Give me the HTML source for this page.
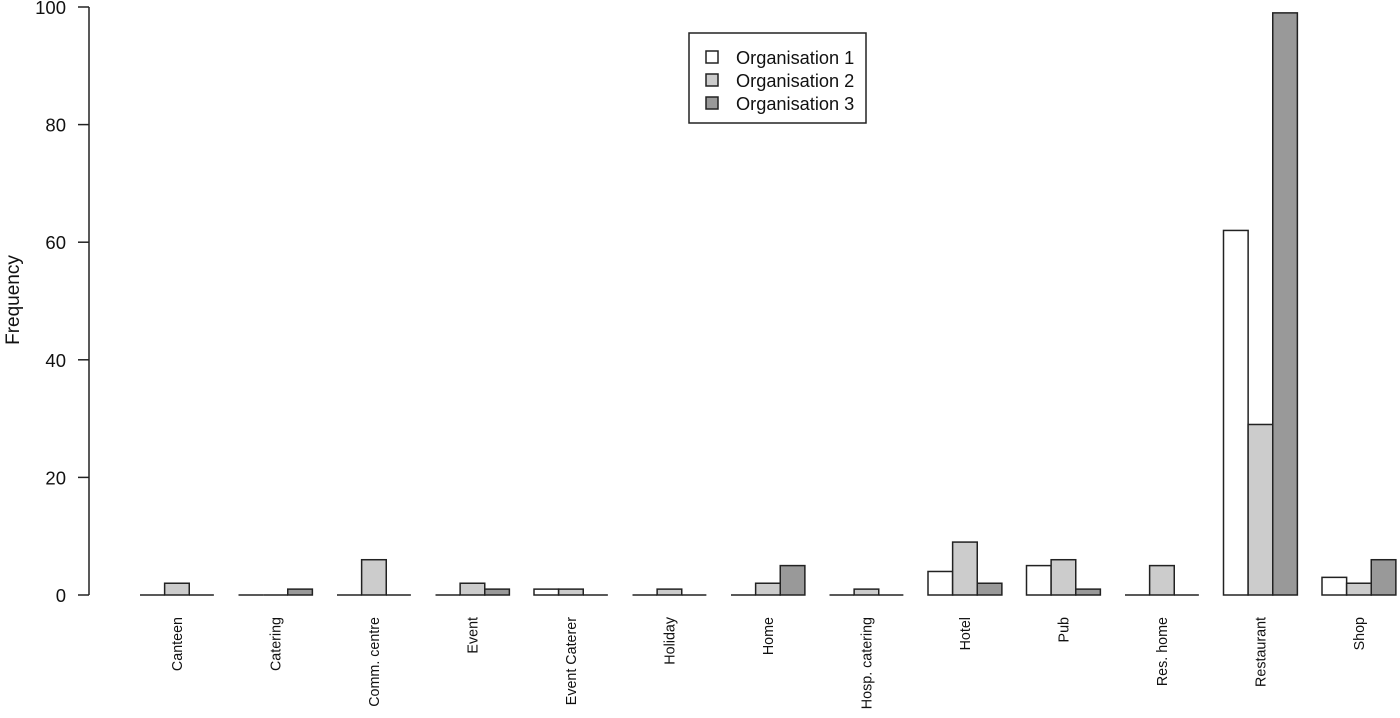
<!DOCTYPE html>
<html><head><meta charset="utf-8"><style>
html,body{margin:0;padding:0;background:#fff;}
svg text{font-family:"Liberation Sans",Arial,sans-serif;fill:#111;}
</style></head><body>
<svg id="chart" width="1400" height="713" viewBox="0 0 1400 713" xmlns="http://www.w3.org/2000/svg">
<g id="axis"></g>
<g id="bars"></g>
<g id="xlabels"></g>
<text x="19" y="300" font-size="19" text-anchor="middle" transform="rotate(-90 19 300)">Frequency</text>
<g>
<rect x="689" y="33" width="177" height="90" fill="#fff" stroke="#222" stroke-width="1.5"/>
<rect x="706" y="51" width="12" height="12" fill="#ffffff" stroke="#222" stroke-width="1.5"/>
<text x="736" y="64" font-size="18.2">Organisation 1</text>
<rect x="706" y="74" width="12" height="12" fill="#cccccc" stroke="#222" stroke-width="1.5"/>
<text x="736" y="87" font-size="18.2">Organisation 2</text>
<rect x="706" y="97" width="12" height="12" fill="#999999" stroke="#222" stroke-width="1.5"/>
<text x="736" y="110" font-size="18.2">Organisation 3</text>
</g>
</svg>
<script>
const categories = ["Canteen","Catering","Comm. centre","Event","Event Caterer","Holiday","Home","Hosp. catering","Hotel","Pub","Res. home","Restaurant","Shop"];
const org1 = [0,0,0,0,1,0,0,0,4,5,0,62,3];
const org2 = [2,0,6,2,1,1,2,1,9,6,5,29,2];
const org3 = [0,1,0,1,0,0,5,0,2,1,0,99,6];
const yTicks = [0,20,40,60,80,100];
const seriesNames = ["org1","org2","org3"];

const NS = "http://www.w3.org/2000/svg";
const y0 = 595, yTop = 7, yMax = 100;
function yScale(v){ return y0 - v*(y0-yTop)/yMax; }
const groupStart = 140, groupStep = 98.5, barW = groupStep/4;
function xScale(i, s){ return groupStart + i*groupStep + s*barW; }
const fills = ["#ffffff","#cccccc","#999999"];
const series = [org1, org2, org3];

const axis = document.getElementById('axis');
const ax = document.createElementNS(NS,'line');


ax.setAttribute('x1',89);ax.setAttribute('x2',89);
ax.setAttribute('y1',yScale(yTicks[0]));ax.setAttribute('y2',yScale(yTicks[yTicks.length-1]));
ax.setAttribute('stroke','#222');ax.setAttribute('stroke-width','1.5');
axis.appendChild(ax);
yTicks.forEach(t=>{
  const ln = document.createElementNS(NS,'line');
  
  
  ln.setAttribute('x1',78);ln.setAttribute('x2',89);
  ln.setAttribute('y1',yScale(t));ln.setAttribute('y2',yScale(t));
  ln.setAttribute('stroke','#222');ln.setAttribute('stroke-width','1.5');
  axis.appendChild(ln);
  const tx = document.createElementNS(NS,'text');
  
  
  tx.setAttribute('x',66);tx.setAttribute('y',yScale(t)+7);
  tx.setAttribute('font-size','18.5');tx.setAttribute('text-anchor','end');
  tx.textContent = t;
  axis.appendChild(tx);
});

const bars = document.getElementById('bars');
categories.forEach((c,i)=>{
  series.forEach((arr,s)=>{
    const v = arr[i];
    const r = document.createElementNS(NS,'rect');
    
    
    r.setAttribute('x',xScale(i,s));
    r.setAttribute('width',barW);
    r.setAttribute('y',yScale(v));
    r.setAttribute('height',Math.max(0,y0-yScale(v)));
    r.setAttribute('fill',fills[s]);
    r.setAttribute('stroke','#222');r.setAttribute('stroke-width','1.5');
    bars.appendChild(r);
    if (v === 0) {
      const z = document.createElementNS(NS,'line');
      
      
      z.setAttribute('x1',xScale(i,s));z.setAttribute('x2',xScale(i,s)+barW);
      z.setAttribute('y1',yScale(0));z.setAttribute('y2',yScale(0));
      z.setAttribute('stroke','#222');z.setAttribute('stroke-width','1.5');
      bars.appendChild(z);
    }
  });
  const xl = document.getElementById('xlabels');
  const cx = xScale(i,1.5)+5;
  const t = document.createElementNS(NS,'text');
  
  
  t.setAttribute('x',cx);t.setAttribute('y',617);
  t.setAttribute('font-size','14.3');t.setAttribute('text-anchor','end');
  t.setAttribute('transform','rotate(-90 '+cx+' 617)');
  t.textContent = c;
  xl.appendChild(t);
});
</script>
</body></html>
